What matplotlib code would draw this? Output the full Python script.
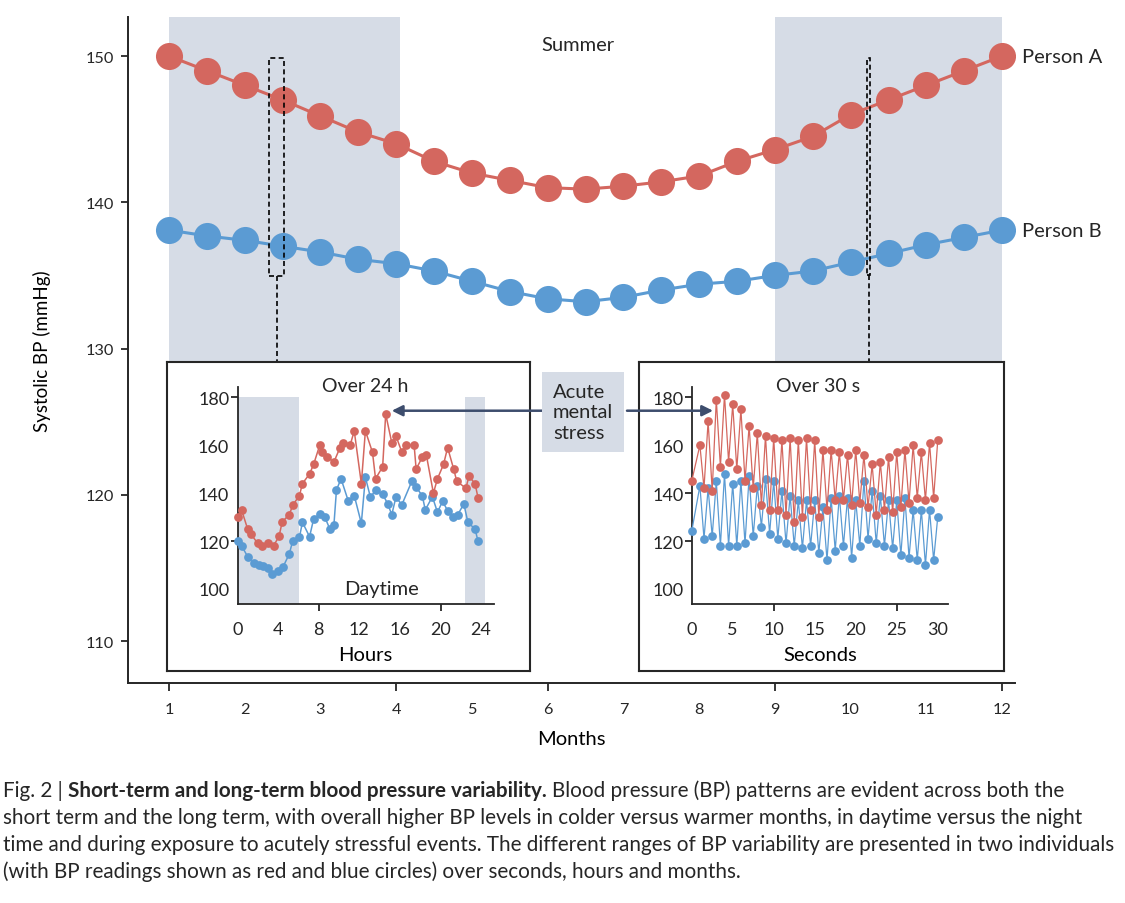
import matplotlib
matplotlib.use("Agg")
import matplotlib.pyplot as plt
import numpy as np
from matplotlib.patches import Rectangle

W, H = 1125, 904

# long term: one reading every half month
months = np.arange(1, 12.5, 0.5)
person_a = [150.0, 149.0, 148.0, 147.0, 145.9, 144.8, 144.0, 142.8, 142.0, 141.5, 141.0, 140.9,
            141.1, 141.4, 141.8, 142.8, 143.6, 144.5, 146.0, 147.0, 148.0, 149.0, 150.0]
person_b = [138.1, 137.7, 137.4, 137.0, 136.6, 136.1, 135.8, 135.3, 134.6, 133.9, 133.4, 133.2,
            133.5, 134.0, 134.4, 134.6, 135.0, 135.3, 135.9, 136.5, 137.1, 137.6, 138.1]
cold_spans = [(1, 4.05), (9, 12)]

# over 24 h
hours_a = [0, 0.4, 1.0, 1.3, 2.0, 2.4, 3.0, 3.55, 4.1, 4.4, 5.1, 5.45, 6.1, 6.4, 7.1, 7.5,
           8.1, 8.3, 8.85, 9.5, 10.1, 10.4, 11.1, 11.5, 12.2, 12.6, 13.3, 13.6, 14.3, 14.6, 15.2, 15.6,
           16.2, 16.6, 17.4, 17.6, 18.2, 18.6, 19.3, 19.7, 20.3, 20.7, 21.3, 21.6, 22.5, 22.8, 23.4, 23.7]
bp_hours_a = [130, 133, 125, 123, 119, 118, 119, 118, 122, 128, 131, 135, 139, 144, 148, 152,
              160, 157, 155, 153, 159, 161, 160, 166, 144, 166, 157, 146, 151, 173, 161, 164,
              157, 160, 160, 150, 155, 156, 140, 146, 152, 159, 150, 145, 142, 147, 144, 138]
hours_b = [0, 0.4, 1.0, 1.6, 2.15, 2.5, 3.0, 3.4, 4.0, 4.5, 5.1, 5.45, 6.1, 6.4, 7.1, 7.5,
           8.1, 8.6, 9.1, 9.5, 9.75, 10.2, 10.9, 11.5, 12.2, 12.6, 13.1, 13.6, 14.3, 14.8, 15.2, 15.6,
           16.2, 17.2, 17.6, 18.2, 18.5, 19.2, 19.7, 20.2, 20.7, 21.2, 21.7, 22.3, 22.7, 23.4, 23.7]
bp_hours_b = [120, 118, 113.5, 111, 110, 109.7, 108.8, 106.3, 107.6, 109.3, 114.6, 120.2, 121.6, 127.8, 121.8, 129.2,
              131.3, 130, 125, 126.8, 141.3, 146, 136.9, 139, 127.4, 146.6, 138.2, 141.3, 139.6, 135.5, 131, 138.2,
              135.2, 145.2, 142.4, 139, 133, 138.5, 132, 136.6, 132.7, 130, 131, 135.5, 127.8, 125, 119.9]
night_spans = [(0, 6.1), (22.4, 24.4)]

# over 30 s (beat peaks on whole seconds, troughs in between)
seconds = np.concatenate([[0], np.arange(1, 30.5, 0.5)])
bp_sec_a = [145, 160, 142, 170, 141, 179, 151, 181, 153, 177, 150, 175, 145, 168, 142, 165, 135,
            164, 133, 163, 133, 162, 131, 163, 128, 162, 130, 163, 133, 162, 130, 158, 133,
            158, 137, 157, 137, 156, 135, 158, 136, 156, 134, 152, 131, 153, 133, 155, 132,
            157, 134, 158, 136, 160, 138, 157, 137, 161, 138, 162]
bp_sec_b = [124, 143, 121, 142, 122, 145, 118, 148, 118, 144, 118, 145, 119, 147, 122, 143, 126,
            146, 123, 145, 121, 141, 119, 139, 118, 137, 117, 137, 118, 137, 115, 134, 112,
            138, 116, 139, 118, 138, 113, 137, 118, 145, 121, 141, 119, 139, 118, 137, 117,
            137, 114, 138, 113, 133, 112, 133, 110, 133, 112, 130]

RED = "#d4675f"
BLUE = "#5b9bd3"
SHADE = "#d6dce6"
INK = "#262626"
ARROW = "#3d4d6d"
FONT = ["Lato", "DejaVu Sans"]

plt.rcParams["font.family"] = FONT
plt.rcParams["text.color"] = INK


def px_rect(x0, y0, x1, y1):
    return [x0 / W, 1 - y1 / H, (x1 - x0) / W, (y1 - y0) / H]


fig = plt.figure(figsize=(W / 100, H / 100), dpi=100)

# ---------------- main chart ----------------
ax = fig.add_axes(px_rect(128, 18, 1015, 684))
for x0, x1 in cold_spans:
    ax.axvspan(x0, x1, ymin=0.45, color=SHADE, lw=0, zorder=0)
ax.plot(months, person_a, "-o", color=RED, lw=2.2, ms=19.5, mec="none", zorder=3)
ax.plot(months, person_b, "-o", color=BLUE, lw=2.2, ms=19.5, mec="none", zorder=3)
ax.set_xlim(0.46, 12.17)
ax.set_ylim(107.13, 152.67)
for side in ("top", "right"):
    ax.spines[side].set_visible(False)
for side in ("left", "bottom"):
    ax.spines[side].set_color(INK)
    ax.spines[side].set_linewidth(1.4)
ax.set_xticks(range(1, 13))
ax.set_yticks([110, 120, 130, 140, 150])
ax.xaxis.remove_overlapping_locs = False
ax.set_xticks([1, 4, 6, 9, 12], minor=True)
ax.tick_params(axis="x", which="major", length=0, pad=14, labelsize=11.7, colors=INK)
ax.tick_params(axis="x", which="minor", length=6, width=1.3, color=INK)
ax.tick_params(axis="y", length=5, width=1.3, pad=5, labelsize=11.7, colors=INK)
ax.set_xlabel("Months", fontsize=14.5, labelpad=10)
ax.set_ylabel("Systolic BP (mmHg)", fontsize=13.5, labelpad=25)

ax.text(6.4, 150.8, "Summer", fontsize=14.5, ha="center", va="center")
ax.text(12.26, person_a[-1], "Person A", fontsize=14.5, ha="left", va="center", clip_on=False)
ax.text(12.26, person_b[-1], "Person B", fontsize=14.5, ha="left", va="center", clip_on=False)

# dashed zoom windows
dash = (0, (3, 2))
ax.add_patch(Rectangle((2.32, 134.96), 0.2, 14.9, fill=False, ls=dash, lw=1.2, ec="black", zorder=4))
ax.plot([2.43, 2.43], [134.96, 129.1], ls=dash, lw=1.2, color="black", zorder=4)
ax.add_patch(Rectangle((10.22, 135.0), 0.04, 14.86, fill=False, ls=dash, lw=1.2, ec="black", zorder=4))
ax.plot([10.24, 10.24], [135.0, 129.1], ls=dash, lw=1.2, color="black", zorder=4)


# ---------------- insets ----------------
def frame(box):
    f = fig.add_axes(px_rect(*box))
    f.set_zorder(2)
    f.set_facecolor("white")
    f.set_xticks([])
    f.set_yticks([])
    for s in f.spines.values():
        s.set_color(INK)
        s.set_linewidth(1.5)
    return f


def style_inset(axi, xmax, xticks, xmarks, ymarks, xlabel):
    axi.set_zorder(3)
    axi.set_facecolor("none")
    axi.set_xlim(0, xmax)
    axi.set_ylim(93.7, 184.3)
    for side in ("top", "right"):
        axi.spines[side].set_visible(False)
    for side in ("left", "bottom"):
        axi.spines[side].set_color(INK)
        axi.spines[side].set_linewidth(1.3)
    axi.set_xticks(xticks)
    axi.set_yticks([100, 120, 140, 160, 180])
    axi.xaxis.remove_overlapping_locs = False
    axi.yaxis.remove_overlapping_locs = False
    axi.set_xticks(xmarks, minor=True)
    axi.set_yticks(ymarks, minor=True)
    axi.tick_params(which="major", length=0, labelsize=13, colors=INK)
    axi.tick_params(axis="x", which="major", pad=12)
    axi.tick_params(axis="y", which="major", pad=6)
    axi.tick_params(which="minor", length=5, width=1.3, color=INK)
    axi.set_xlabel(xlabel, fontsize=14.5, labelpad=7)


frame((167, 363, 530, 672))
frame((639, 363, 1004, 672))

in_h = fig.add_axes(px_rect(237.5, 388, 494, 605))
style_inset(in_h, 25.27, range(0, 25, 4), [8, 20], [120, 180], "Hours")
for h0, h1 in night_spans:
    in_h.fill_between([h0, h1], 93.7, 180, color=SHADE, lw=0, zorder=0)
in_h.plot(hours_b, bp_hours_b, "-o", color=BLUE, lw=1.1, ms=6.3, mec="none", clip_on=False, zorder=3)
in_h.plot(hours_a, bp_hours_a, "-o", color=RED, lw=1.1, ms=6.3, mec="none", clip_on=False, zorder=3)
in_h.text(12.6, 185.1, "Over 24 h", fontsize=14, ha="center", va="center", clip_on=False)
in_h.text(14.2, 100, "Daytime", fontsize=14.5, ha="center", va="center")

in_s = fig.add_axes(px_rect(691.7, 388, 948, 605))
style_inset(in_s, 31.25, range(0, 31, 5), [10, 25], [120, 140, 180], "Seconds")
in_s.plot(seconds, bp_sec_b, "-o", color=BLUE, lw=0.9, ms=6.3, mec="none", clip_on=False, zorder=3)
in_s.plot(seconds, bp_sec_a, "-o", color=RED, lw=0.9, ms=6.3, mec="none", clip_on=False, zorder=4)
in_s.text(15.4, 185.1, "Over 30 s", fontsize=14, ha="center", va="center", clip_on=False)

# acute mental stress box and arrows
fig.text(553 / W, 1 - 413 / H, "Acute\nmental\nstress", fontsize=14.5, ha="left", va="center",
         linespacing=1.25, zorder=10,
         bbox=dict(boxstyle="square,pad=0.55", fc=SHADE, ec="none"))
arrow = dict(arrowstyle="-|>", color=ARROW, lw=1.8, mutation_scale=16, shrinkA=0, shrinkB=0)
in_h.annotate("", xy=(15.2, 174.4), xytext=(543 / W, 174.4),
              textcoords=("figure fraction", "data"), arrowprops=arrow, annotation_clip=False)
in_s.annotate("", xy=(2.6, 174.4), xytext=(627 / W, 174.4),
              textcoords=("figure fraction", "data"), arrowprops=arrow, annotation_clip=False)

# ---------------- caption ----------------
cap_size = 14.9
cap_lines = [
    "short term and the long term, with overall higher BP levels in colder versus warmer months, in daytime versus the night",
    "time and during exposure to acutely stressful events. The different ranges of BP variability are presented in two individuals",
    "(with BP readings shown as red and blue circles) over seconds, hours and months.",
]
baselines = [797, 824, 851, 878]

fig.canvas.draw()
renderer = fig.canvas.get_renderer()
x = 3 / W
parts = [("Fig. 2 |", "normal"),
         ("Short-term and long-term blood pressure variability.", "bold"),
         ("Blood pressure (BP) patterns are evident across both the", "normal")]
for txt, weight in parts:
    t = fig.text(x, 1 - baselines[0] / H, txt, fontsize=cap_size, fontweight=weight,
                 ha="left", va="baseline")
    x += (t.get_window_extent(renderer).width + 5) / W
for line, b in zip(cap_lines, baselines[1:]):
    fig.text(3 / W, 1 - b / H, line, fontsize=cap_size, ha="left", va="baseline")

fig.savefig("out.png", dpi=100)
